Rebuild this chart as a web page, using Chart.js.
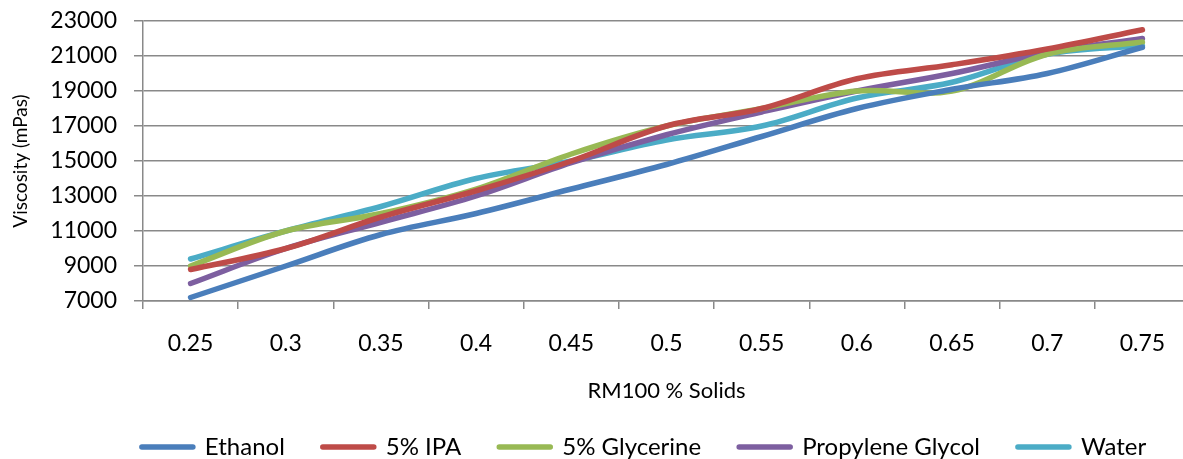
<!DOCTYPE html>
<html>
<head>
<meta charset="utf-8">
<script src="https://cdn.jsdelivr.net/npm/chart.js@4"></script>
<style>
  html, body { margin: 0; padding: 0; background: #fff; overflow: hidden; }
  #wrap { width: 1183px; height: 459px; overflow: hidden; position: relative; }
  canvas { display: block; }
</style>
</head>
<body>
<div id="wrap"><canvas id="c" width="1190" height="459"></canvas></div>
<script>
const categories = ['0.25','0.3','0.35','0.4','0.45','0.5','0.55','0.6','0.65','0.7','0.75'];
const ethanol    = [7200, 9000, 10800, 12000, 13400, 14800, 16400, 18000, 19100, 20000, 21500];
const ipa        = [8800, 10000, 11800, 13300, 15000, 17000, 18000, 19700, 20500, 21400, 22500];
const glycerine  = [9000, 11000, 12000, 13400, 15400, 17000, 18000, 19000, 19000, 21100, 21800];
const propylene  = [8000, 10000, 11500, 13000, 14900, 16500, 17800, 19000, 20000, 21200, 22000];
const water      = [9400, 11000, 12400, 14000, 15000, 16200, 17000, 18600, 19500, 21100, 21600];
const yTicks     = [7000, 9000, 11000, 13000, 15000, 17000, 19000, 21000, 23000];

const FONT = 'Lato';
const GRID = '#898989';

function ds(label, data, color) {
  return {
    label, data,
    borderColor: color, backgroundColor: color,
    borderWidth: 5.5, pointRadius: 0, tension: 0.35,
    borderCapStyle: 'round', borderJoinStyle: 'round', fill: false
  };
}

const legendShift = {
  id: 'legendShift',
  afterLayout(chart) {
    const l = chart.legend;
    if (l) { l.left += 49; l.right += 49; }
  }
};

new Chart(document.getElementById('c'), {
  type: 'line',
  data: {
    labels: categories,
    datasets: [
      ds('Ethanol', ethanol, '#4a7ebb'),
      ds('5% IPA', ipa, '#be4b48'),
      ds('5% Glycerine', glycerine, '#98b954'),
      ds('Propylene Glycol', propylene, '#7d5fa0'),
      ds('Water', water, '#4bacc6')
    ]
  },
  options: {
    responsive: false,
    animation: false,
    devicePixelRatio: 1,
    layout: { padding: { top: 0, left: 0, right: 0, bottom: 0 } },
    plugins: {
      legend: {
        position: 'bottom',
        maxHeight: 62,
        labels: {
          font: { family: FONT, size: 24 },
          color: '#000',
          boxWidth: 51, boxHeight: 0.1,
          padding: 38
        }
      },
      tooltip: { enabled: false }
    },
    scales: {
      x: {
        offset: true,
        afterFit(scale) { scale.height = 96; },
        grid: { display: true, offset: true, drawOnChartArea: false, drawTicks: true, tickLength: 8, color: GRID, lineWidth: 1.5 },
        border: { display: true, color: GRID, width: 1.5 },
        ticks: { font: { family: FONT, size: 23 }, color: '#000', padding: 21, maxRotation: 0 },
        title: { display: true, text: 'RM100 % Solids', font: { family: FONT, size: 22 }, color: '#000', padding: { top: 0, bottom: -7 } }
      },
      y: {
        min: 7000, max: 23000,
        afterBuildTicks(scale) { scale.ticks = yTicks.map(v => ({ value: v })); },
        afterFit(scale) { scale.width = 143; scale.paddingTop = 21; scale.paddingBottom = 0; },
        grid: { color: GRID, lineWidth: 1.5, tickLength: 9 },
        border: { display: true, color: GRID, width: 1.5 },
        ticks: { font: { family: FONT, size: 23 }, color: '#000', padding: 17, callback: v => String(v) },
        title: { display: true, text: 'Viscosity (mPas)', font: { family: FONT, size: 19 }, color: '#000', padding: { top: 9, bottom: 0 } }
      }
    }
  },
  plugins: [legendShift]
});
</script>
</body>
</html>
